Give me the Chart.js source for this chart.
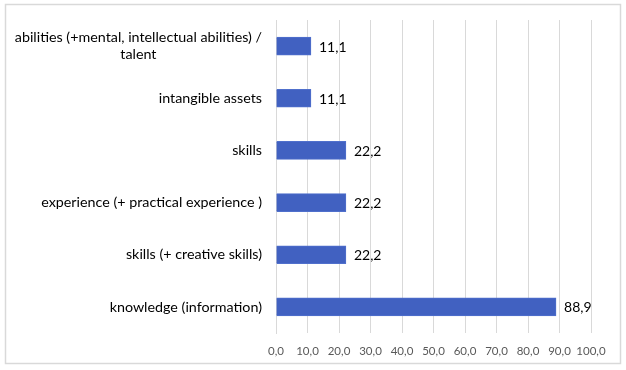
<title>Bar chart</title>
<script src="https://cdn.jsdelivr.net/npm/chart.js@4/dist/chart.umd.min.js"></script>
<style>body{margin:0;background:#fff}</style>
<canvas id="c" width="626" height="370"></canvas>
<script>
var categories = [['abilities (+mental, intellectual abilities) /', 'talent'], 'intangible assets', 'skills',
  'experience (+ practical experience )', 'skills (+ creative skills)', 'knowledge (information)'];
var values = [11.1, 11.1, 22.2, 22.2, 22.2, 88.9];
var xTicks = [0, 10, 20, 30, 40, 50, 60, 70, 80, 90, 100];

function fmt(v){ return v.toFixed(1).replace('.', ','); }

var FONT = 'Lato';

// frame, category labels and value labels
var extras = {
  id: 'extras',
  beforeDraw: function(chart){
    var ctx = chart.ctx;
    ctx.save();
    ctx.fillStyle = '#fff';
    ctx.fillRect(0, 0, chart.width, chart.height);
    ctx.strokeStyle = '#d9d9d9';
    ctx.lineWidth = 1.5;
    ctx.strokeRect(5.5, 4.5, 615, 359);
    ctx.restore();
  },
  afterDraw: function(chart){
    var ctx = chart.ctx, y = chart.scales.y, a = chart.chartArea;
    ctx.save();
    ctx.fillStyle = '#000';
    ctx.font = '14.3px ' + FONT;
    ctx.textBaseline = 'middle';
    categories.forEach(function(lab, i){
      var lines = Array.isArray(lab) ? lab : [lab];
      var w = Math.max.apply(null, lines.map(function(l){ return ctx.measureText(l).width; }));
      var right = a.left - 14, cy = y.getPixelForValue(i), lh = 17;
      ctx.textAlign = 'center';
      lines.forEach(function(l, j){
        ctx.fillText(l, right - w / 2, cy + (j - (lines.length - 1) / 2) * lh);
      });
    });
    var meta = chart.getDatasetMeta(0);
    ctx.font = '14px ' + FONT;
    ctx.textAlign = 'left';
    meta.data.forEach(function(bar, i){
      ctx.fillText(fmt(values[i]), bar.x + 8, bar.y + 1);
    });
    ctx.restore();
  }
};

new Chart(document.getElementById('c'), {
  type: 'bar',
  data: { labels: categories, datasets: [{ data: values, backgroundColor: '#4161c1',
    borderColor: '#5070cc', borderWidth: 1, barThickness: 18 }] },
  options: {
    indexAxis: 'y', responsive: false, animation: false,
    layout: { padding: { left: 0, right: 35, top: 20, bottom: 0 } },
    plugins: { legend: { display: false }, tooltip: { enabled: false } },
    scales: {
      x: {
        min: 0, max: 100,
        afterBuildTicks: function(s){ s.ticks = xTicks.map(function(v){ return { value: v }; }); },
        afterFit: function(s){ s.height = 37; },
        grid: { color: '#d9d9d9', drawTicks: false },
        border: { display: false },
        ticks: { padding: 11, color: '#595959', maxRotation: 0, minRotation: 0, autoSkip: false,
          font: { family: FONT, size: 11.5 },
          callback: function(v){ return fmt(v); } }
      },
      y: {
        afterFit: function(s){ s.width = 276; },
        grid: { display: false },
        border: { color: '#d9d9d9' },
        ticks: { display: false }
      }
    }
  },
  plugins: [extras]
});
</script>
